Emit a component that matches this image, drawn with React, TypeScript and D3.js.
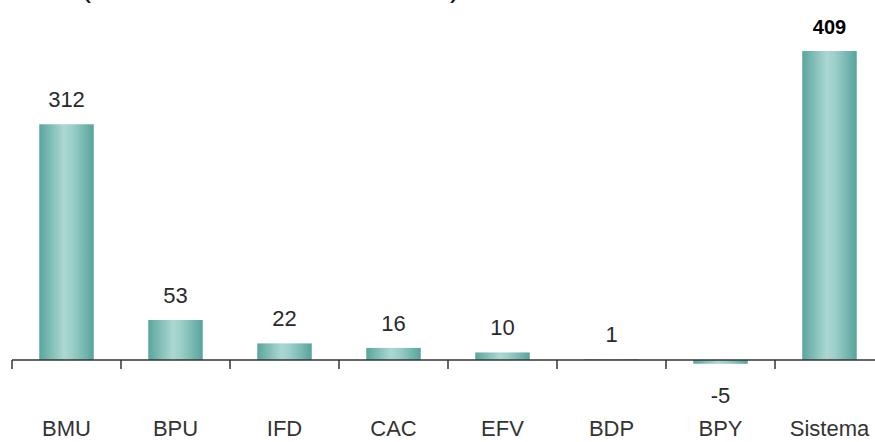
import React from "react";
import * as d3 from "d3";

const categories = ["BMU", "BPU", "IFD", "CAC", "EFV", "BDP", "BPY", "Sistema"];
const values = [312, 53, 22, 16, 10, 1, -5, 409];
const highlight = ["Sistema"];

const W = 875;
const H = 442;

export default function App() {
  const x = d3
    .scaleBand<string>()
    .domain(categories)
    .range([12, 884])
    .paddingInner(0.5)
    .paddingOuter(0.25);
  const y = d3.scaleLinear().domain([0, 409]).range([360, 51]);
  const step = x.step();
  const font = "'Liberation Sans', Arial, sans-serif";

  return (
    <div style={{ position: "fixed", left: 0, top: 0 }}>
      <svg width={W} height={H} style={{ display: "block", background: "#fff" }}>
        <defs>
          <linearGradient id="barGrad" x1="0" x2="1" y1="0" y2="0">
            <stop offset="0%" stopColor="#5aa59e" />
            <stop offset="12%" stopColor="#6fb3ac" />
            <stop offset="45%" stopColor="#acd7d2" />
            <stop offset="60%" stopColor="#9ccfc9" />
            <stop offset="88%" stopColor="#6cb1aa" />
            <stop offset="100%" stopColor="#58a39c" />
          </linearGradient>
        </defs>
        {/* cut-off title remnants */}
        <text x={81} y={-3} fontFamily={font} fontSize={30} fill="#111">(</text>
        <text x={450} y={-3} fontFamily={font} fontSize={30} fill="#111">)</text>

        {categories.map((c, i) => {
          const v = values[i];
          const x0 = x(c) as number;
          const bw = x.bandwidth();
          const top = Math.min(y(v), y(0));
          const h = Math.abs(y(v) - y(0));
          const cx = x0 + bw / 2;
          const bold = highlight.includes(c);
          return (
            <g key={c}>
              <rect x={x0} y={top} width={bw} height={h} fill="url(#barGrad)" />
              <text
                x={cx}
                y={v >= 0 ? y(v) - 17 : y(v) + 39}
                textAnchor="middle"
                fontFamily={font}
                fontSize={bold ? 20 : 22}
                fontWeight={bold ? "bold" : "normal"}
                fill={bold ? "#000" : "#2a2a2a"}
              >
                {v}
              </text>
              <text
                x={cx}
                y={436}
                textAnchor="middle"
                fontFamily={font}
                fontSize={22}
                fill="#333"
              >
                {c}
              </text>
            </g>
          );
        })}

        {/* axis */}
        <line x1={12} x2={W} y1={y(0)} y2={y(0)} stroke="#333" strokeWidth={1.5} />
        {categories.map((c, i) => {
          const tx = 12 + i * step;
          return (
            <line key={"t" + c} x1={tx} x2={tx} y1={y(0)} y2={y(0) + 9} stroke="#333" strokeWidth={1.5} />
          );
        })}
      </svg>
    </div>
  );
}
